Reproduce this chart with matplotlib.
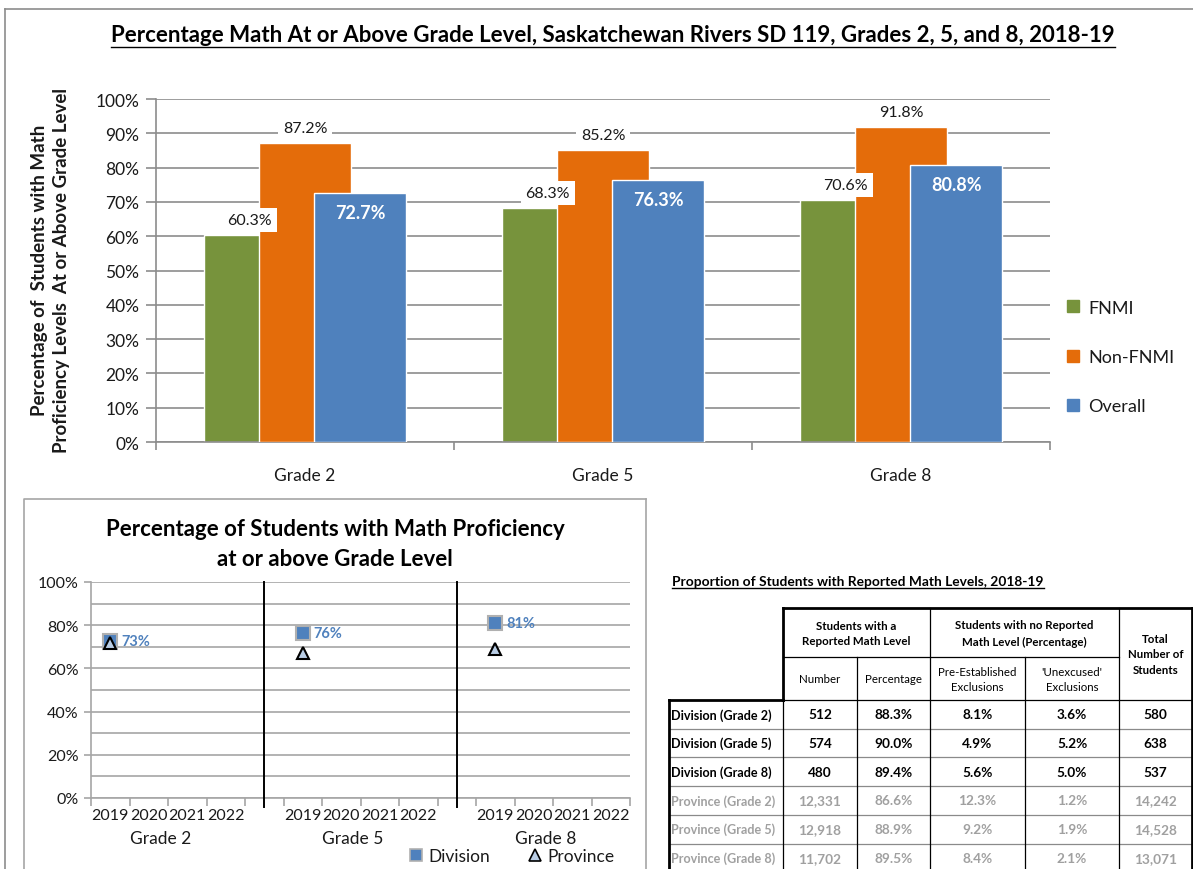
import matplotlib
matplotlib.use("Agg")
import matplotlib.pyplot as plt
from matplotlib.lines import Line2D
import numpy as np

plt.rcParams["font.family"] = ["Lato", "DejaVu Sans"]

W, H = 1193, 870

# ---- bar chart data ----
grades = ["Grade 2", "Grade 5", "Grade 8"]
series_names = ["FNMI", "Non-FNMI", "Overall"]
fnmi = [60.3, 68.3, 70.6]
non_fnmi = [87.2, 85.2, 91.8]
overall = [72.7, 76.3, 80.8]

# ---- proficiency trend data (only 2019 reported) ----
years = ["2019", "2020", "2021", "2022"]
division = [72.7, 76.3, 80.8]
province = [71.7, 67.2, 69.0]

# ---- table data ----
row_labels = ["Division (Grade 2)", "Division (Grade 5)", "Division (Grade 8)",
              "Province (Grade 2)", "Province (Grade 5)", "Province (Grade 8)"]
col_number = ["512", "574", "480", "12,331", "12,918", "11,702"]
col_percentage = ["88.3%", "90.0%", "89.4%", "86.6%", "88.9%", "89.5%"]
col_pre_established = ["8.1%", "4.9%", "5.6%", "12.3%", "9.2%", "8.4%"]
col_unexcused = ["3.6%", "5.2%", "5.0%", "1.2%", "1.9%", "2.1%"]
col_total = ["580", "638", "537", "14,242", "14,528", "13,071"]

GREEN, ORANGE, BLUE = "#77933C", "#E46C0A", "#4F81BD"
GRID = "#8C8C8C"
TXT = "#1A1A1A"


def rect(x0, y0, x1, y1):
    return [x0 / W, 1 - y1 / H, (x1 - x0) / W, (y1 - y0) / H]


fig = plt.figure(figsize=(W / 100, H / 100), dpi=100)

# overlay in pixel coordinates for frames, table and decorations
ov = fig.add_axes([0, 0, 1, 1], zorder=0)
ov.set_xlim(0, W)
ov.set_ylim(H, 0)
ov.axis("off")

# outer frame
ov.plot([5, W], [10, 10], color=GRID, lw=1.2)
ov.plot([5, 5], [10, H], color=GRID, lw=1.2)


def underlined(x, y, s, size, ha="center"):
    t = ov.text(x, y, s, ha=ha, va="center", fontsize=size, fontweight="bold", color="black")
    fig.canvas.draw()
    bb = t.get_window_extent(fig.canvas.get_renderer())
    x0, x1 = bb.x0, bb.x1
    yline = H - bb.y0 + 1
    ov.plot([x0, x1], [yline, yline], color="black", lw=1.0)
    return t


underlined(613, 36, "Percentage Math At or Above Grade Level, Saskatchewan Rivers SD 119, Grades 2, 5, and 8, 2018-19", 16)

# ================= top bar chart =================
ax = fig.add_axes(rect(156, 100, 1050, 443), zorder=2)
ax.patch.set_alpha(0)
x = np.arange(len(grades))
bw, step = 0.309, 0.185
colors = [GREEN, ORANGE, BLUE]
data = [fnmi, non_fnmi, overall]
for i, (vals, c, name) in enumerate(zip(data, colors, series_names)):
    ax.bar(x + (i - 1) * step, np.array(vals) / 100, width=bw, color=c,
           edgecolor="white", linewidth=1.0, zorder=2 + i, label=name)

for i, vals in enumerate(data):
    for xi, v in zip(x, vals):
        xp = xi + (i - 1) * step
        if i < 2:
            ax.annotate(f"{v:.1f}%", (xp, v / 100), xytext=(0, 8), textcoords="offset pixels",
                        ha="center", va="bottom", fontsize=11.5, color=TXT, zorder=10,
                        bbox=dict(boxstyle="square,pad=0.3", fc="white", ec="none"))
        else:
            ax.annotate(f"{v:.1f}%", (xp, v / 100), xytext=(0, -11), textcoords="offset pixels",
                        ha="center", va="top", fontsize=13, fontweight="bold", color="white", zorder=10)

ax.set_xlim(-0.5, 2.5)
ax.set_ylim(0, 1)
ax.set_yticks(np.arange(0, 1.001, 0.1))
ax.set_yticklabels([f"{int(round(v * 100))}%" for v in np.arange(0, 1.001, 0.1)])
ax.yaxis.grid(True, color=GRID, lw=1.2)
ax.set_axisbelow(True)
ax.tick_params(axis="y", length=7, width=1.2, color=GRID, labelsize=12.5, labelcolor=TXT, pad=5)
ax.set_xticks([-0.5, 0.5, 1.5, 2.5])
ax.set_xticklabels([])
ax.set_xticks(x, minor=True)
ax.set_xticklabels(grades, minor=True)
ax.tick_params(axis="x", which="major", length=6, width=1.2, color=GRID)
ax.tick_params(axis="x", which="minor", length=0, labelsize=12.5, labelcolor=TXT, pad=18)
for s in ["top", "right"]:
    ax.spines[s].set_visible(False)
for s in ["left", "bottom"]:
    ax.spines[s].set_color(GRID)
    ax.spines[s].set_linewidth(1.2)

handles = [Line2D([], [], marker="s", ls="none", color=c, markersize=8) for c in colors]
fig.legend(handles, series_names, loc="center left", bbox_to_anchor=(1050 / W, 1 - 358 / H),
           frameon=False, fontsize=13, labelspacing=1.85, handlelength=0.8, handletextpad=0.4,
           labelcolor=TXT)

fig.text(40 / W, 1 - 270 / H, "Percentage of  Students with Math", rotation=90,
         ha="center", va="center", fontsize=13.5, fontweight="bold", color=TXT)
fig.text(62 / W, 1 - 271 / H, "Proficiency Levels  At or Above Grade Level", rotation=90,
         ha="center", va="center", fontsize=13.5, fontweight="bold", color=TXT)

# ================= lower trend chart =================
ov.plot([24, 646, 646], [H + 5, H + 5, 500], color="#A6A6A6", lw=1.2)
ov.plot([24, 24, 646], [H + 5, 500, 500], color="#A6A6A6", lw=1.2)
fig.text(335 / W, 1 - 530 / H, "Percentage of Students with Math Proficiency",
         ha="center", va="center", fontsize=16, fontweight="bold", color="black")
fig.text(335 / W, 1 - 560 / H, "at or above Grade Level",
         ha="center", va="center", fontsize=16, fontweight="bold", color="black")

ax2 = fig.add_axes(rect(91, 583, 630, 799), zorder=2)
ax2.patch.set_alpha(0)
ax2.set_xlim(-0.5, 13.5)
ax2.set_ylim(0, 1)
group_start = np.array([0, 5, 10])
ax2.plot(group_start, np.array(division) / 100, ls="none", marker="s", markersize=10,
         markerfacecolor=BLUE, markeredgecolor="#B0B0B0", markeredgewidth=1.5, zorder=4)
ax2.plot(group_start, np.array(province) / 100, ls="none", marker="^", markersize=9,
         markerfacecolor="#B9CDE5", markeredgecolor="black", markeredgewidth=1.5, zorder=5)
for gx, v in zip(group_start, division):
    ax2.annotate(f"{v:.0f}%", (gx, v / 100), xytext=(11, 0), textcoords="offset pixels",
                 ha="left", va="center", fontsize=10.5, fontweight="bold", color=BLUE, zorder=6)

major_y = np.arange(0, 1.001, 0.2)
ax2.set_yticks(major_y)
ax2.set_yticklabels([f"{int(round(v * 100))}%" for v in major_y])
ax2.set_yticks(np.arange(0.1, 1.0, 0.2), minor=True)
ax2.yaxis.grid(True, which="both", color="#A6A6A6", lw=1.2)
ax2.set_axisbelow(True)
ax2.tick_params(axis="y", which="major", length=5, width=1.2, color="#A6A6A6",
                labelsize=11.5, labelcolor=TXT, pad=4)
ax2.tick_params(axis="y", which="minor", length=0)
ax2.set_xticks(np.arange(-0.5, 13.51, 1.0))
ax2.set_xticklabels([])
year_pos = np.concatenate([group_start + k for k in range(4)])
year_pos.sort()
ax2.set_xticks(year_pos, minor=True)
ax2.set_xticklabels([years[int(p) % 5] for p in year_pos], minor=True)
ax2.tick_params(axis="x", which="major", length=6, width=1.2, color="#A6A6A6")
ax2.tick_params(axis="x", which="minor", length=0, labelsize=11.5, labelcolor=TXT, pad=7)
for s in ["top", "right"]:
    ax2.spines[s].set_visible(False)
for s in ["left", "bottom"]:
    ax2.spines[s].set_color("#A6A6A6")
    ax2.spines[s].set_linewidth(1.2)
for sep in [4, 9]:
    ax2.plot([sep, sep], [1.0, -0.04], color="black", lw=1.4, clip_on=False, zorder=3)
for gx, g in zip(group_start + 1.5, grades):
    ax2.text(gx - 0.2, -0.185, g, transform=ax2.get_xaxis_transform(), ha="center",
             va="center", fontsize=12.5, color=TXT)

leg_handles = [
    Line2D([], [], marker="s", ls="none", markersize=9, markerfacecolor=BLUE,
           markeredgecolor="#B0B0B0", markeredgewidth=1.2),
    Line2D([], [], marker="^", ls="none", markersize=8, markerfacecolor="#B9CDE5",
           markeredgecolor="black", markeredgewidth=1.2),
]
fig.legend(leg_handles, ["Division", "Province"], loc="center", ncol=2,
           bbox_to_anchor=(512 / W, 1 - 857 / H), frameon=False, fontsize=12.5,
           handlelength=0.8, handletextpad=0.3, columnspacing=2.2, labelcolor=TXT)

# ================= table =================
underlined(672, 582, "Proportion of Students with Reported Math Levels, 2018-19", 9.9, ha="left")

cx = [669, 783, 857, 930, 1025, 1119, 1192]
row_top = 701
row_h = 28.7
ry = [row_top + i * row_h for i in range(7)]
THICK, THIN = 2.0, 0.9

# horizontal lines
ov.plot([783, 1192], [609, 609], color="black", lw=THICK)
ov.plot([783, 1119], [658, 658], color="black", lw=THIN)
ov.plot([669, 783], [row_top, row_top], color="black", lw=THICK)
ov.plot([783, 1192], [row_top, row_top], color="black", lw=THIN)
for yy in ry[1:6]:
    ov.plot([669, 1192], [yy, yy], color="#8A8A8A", lw=THIN)
# vertical lines
ov.plot([783, 783], [609, row_top], color="black", lw=THICK)
ov.plot([669, 669], [row_top, H], color="black", lw=THICK)
ov.plot([1192, 1192], [609, H], color="black", lw=THICK)
ov.plot([783, 783], [row_top, H], color="black", lw=THIN)
ov.plot([857, 857], [658, H], color="black", lw=THIN)
ov.plot([930, 930], [609, H], color="black", lw=THIN)
ov.plot([1025, 1025], [658, H], color="black", lw=THIN)
ov.plot([1119, 1119], [609, H], color="black", lw=THIN)

hdr = dict(ha="center", va="center", fontsize=8.3, color="black", linespacing=1.55)
ov.text((783 + 930) / 2, 634, "Students with a\nReported Math Level", fontweight="bold", **hdr)
ov.text((930 + 1119) / 2, 634, "Students with no Reported\nMath Level (Percentage)", fontweight="bold", **hdr)
ov.text((1119 + 1192) / 2, 655, "Total\nNumber of\nStudents", fontweight="bold", **hdr)
ov.text((783 + 857) / 2, 680, "Number", **hdr)
ov.text((857 + 930) / 2, 680, "Percentage", **hdr)
ov.text((930 + 1025) / 2, 680, "Pre-Established\nExclusions", **hdr)
ov.text((1025 + 1119) / 2, 680, "'Unexcused'\nExclusions", **hdr)

columns = [col_number, col_percentage, col_pre_established, col_unexcused, col_total]
for r, lab in enumerate(row_labels):
    yc = ry[r] + row_h / 2
    col = "black" if lab.startswith("Division") else "#A0A0A0"
    ov.text(671, yc, lab, ha="left", va="center", fontsize=9.1, fontweight="bold", color=col)
    for c, vals in enumerate(columns):
        ov.text((cx[c + 1] + cx[c + 2]) / 2, yc, vals[r], ha="center", va="center",
                fontsize=9.8, fontweight="bold", color=col)

fig.savefig("out.png", dpi=100)
